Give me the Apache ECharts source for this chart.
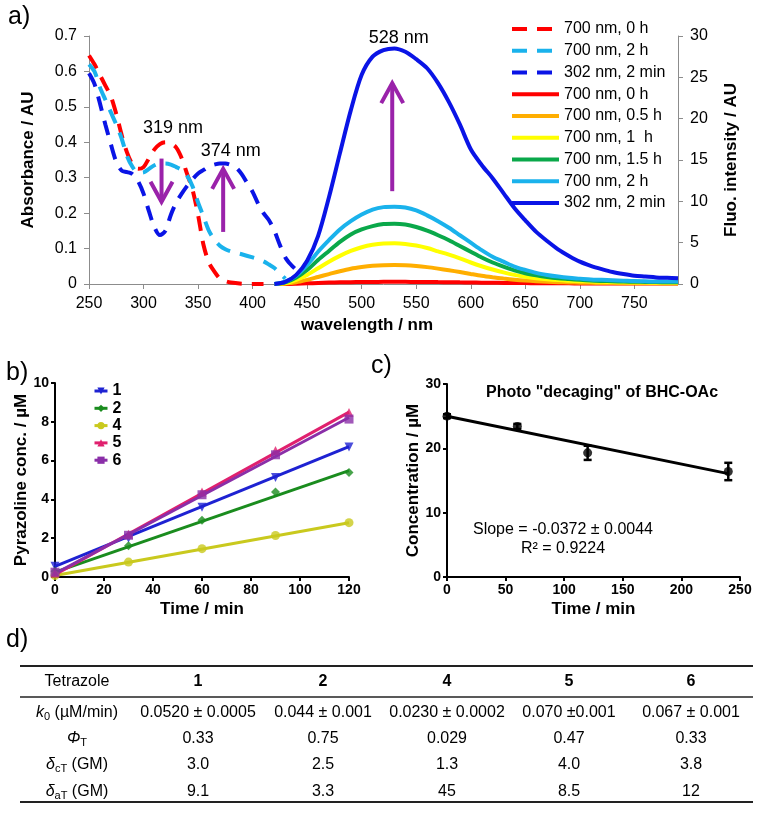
<!DOCTYPE html>
<html><head><meta charset="utf-8">
<script src="https://cdn.jsdelivr.net/npm/echarts@6/dist/echarts.min.js"></script>
<style>html,body{margin:0;padding:0;background:#fff}#c{width:762px;height:813px}</style>
</head><body><div id="c"></div>
<script>
// ---------- Panel a: absorbance (dashed, left axis) ----------
const absRed0h = [[250,0.645],[255,0.62],[260,0.59],[265,0.56],[270,0.53],[275,0.48],[280,0.42],[285,0.37],[290,0.337],[295,0.325],[300,0.33],[305,0.355],[310,0.38],[315,0.395],[320,0.40],[325,0.397],[330,0.385],[335,0.355],[340,0.31],[345,0.265],[350,0.195],[355,0.11],[360,0.06],[365,0.035],[370,0.015],[375,0.008],[380,0.004],[390,0.001],[400,0],[410,0]];
const absLb2h = [[250,0.62],[255,0.6],[260,0.555],[265,0.52],[270,0.485],[275,0.45],[280,0.41],[285,0.36],[290,0.33],[295,0.314],[300,0.315],[305,0.325],[310,0.335],[315,0.34],[320,0.34],[325,0.337],[330,0.33],[335,0.322],[340,0.305],[345,0.275],[350,0.23],[355,0.19],[360,0.15],[365,0.125],[370,0.108],[375,0.098],[380,0.092],[390,0.084],[400,0.075],[405,0.07],[410,0.064],[415,0.055],[420,0.045],[425,0.03],[430,0.015]];
const absBl302 = [[250,0.595],[255,0.565],[260,0.51],[265,0.45],[270,0.395],[275,0.345],[280,0.32],[285,0.316],[290,0.31],[295,0.29],[300,0.255],[305,0.205],[310,0.16],[315,0.138],[320,0.15],[325,0.195],[330,0.23],[335,0.255],[340,0.277],[345,0.296],[350,0.312],[355,0.322],[360,0.332],[365,0.337],[370,0.34],[375,0.34],[380,0.336],[385,0.328],[390,0.31],[395,0.285],[400,0.26],[405,0.227],[410,0.2],[415,0.18],[420,0.15],[425,0.11],[430,0.075],[435,0.055],[440,0.04]];
// ---------- Panel a: fluorescence (solid, right axis) ----------
const wlF = [420,430,440,450,460,470,480,490,500,510,520,530,540,550,560,570,580,590,600,610,620,630,640,650,660,670,680,690,700,710,720,730,740,750,760,770,780,790];
const flRed0h  = [0,0,0.03,0.08,0.13,0.17,0.2,0.22,0.24,0.25,0.26,0.26,0.26,0.25,0.24,0.23,0.22,0.2,0.18,0.16,0.15,0.13,0.12,0.11,0.1,0.09,0.08,0.08,0.07,0.07,0.06,0.06,0.06,0.05,0.05,0.05,0.05,0.05];
const flOr05h  = [0,0.05,0.2,0.5,0.85,1.2,1.55,1.85,2.05,2.2,2.28,2.3,2.27,2.18,2.04,1.86,1.66,1.45,1.22,1.0,0.82,0.66,0.52,0.41,0.33,0.27,0.22,0.19,0.16,0.14,0.12,0.11,0.1,0.09,0.08,0.08,0.07,0.07];
const flYe1h   = [0,0.1,0.5,1.1,1.9,2.7,3.4,4.0,4.45,4.75,4.9,4.92,4.85,4.65,4.35,3.95,3.55,3.1,2.6,2.15,1.75,1.4,1.1,0.87,0.7,0.57,0.47,0.4,0.34,0.3,0.26,0.23,0.2,0.18,0.17,0.16,0.15,0.14];
const flGr15h  = [0,0.2,0.8,1.7,2.9,4.0,5.1,6.0,6.6,7.0,7.25,7.3,7.2,6.9,6.45,5.9,5.3,4.6,3.9,3.2,2.6,2.1,1.65,1.3,1.05,0.85,0.7,0.6,0.5,0.42,0.37,0.33,0.3,0.27,0.25,0.23,0.22,0.2];
const flLb2h   = [0,0.3,1.0,2.3,3.9,5.3,6.6,7.6,8.4,9.0,9.3,9.35,9.25,8.9,8.3,7.6,6.8,5.9,5.0,4.1,3.3,2.7,2.1,1.7,1.35,1.1,0.9,0.75,0.65,0.55,0.5,0.45,0.4,0.35,0.33,0.3,0.3,0.3];
const flBl302  = [0,0.25,1.1,2.8,5.8,10.5,15.8,21,25.3,27.5,28.3,28.5,28.1,27.2,26.1,24.3,22,19.3,16.3,14.4,12.8,11,9.2,7.7,6.3,5.2,4.2,3.4,2.7,2.2,1.8,1.45,1.2,1.0,0.9,0.8,0.75,0.7];
const legendA = ['700 nm, 0 h','700 nm, 2 h','302 nm, 2 min','700 nm, 0 h','700 nm, 0.5 h','700 nm, 1  h','700 nm, 1.5 h','700 nm, 2 h','302 nm, 2 min'];
// arrows: [wavelength, from absorbance, to absorbance]
const arrowsA = [[316.5,0.354,0.232],[373,0.147,0.325],[528,0.262,0.567]];
const peakLabels = ['319 nm','374 nm','528 nm'];
const peakLabelPos = [[327,0.441],[380,0.375],[534,0.694]];

// ---------- Panel b ----------
const timesB = [0,30,60,90,120];
const namesB = ['1','2','4','5','6'];
const ptsB = {
  '1':[0.55,2.0,3.6,5.13,6.7],
  '2':[0.29,1.61,2.92,4.38,5.39],
  '4':[0.08,0.77,1.46,2.14,2.8],
  '5':[0.2,2.2,4.38,6.52,8.48],
  '6':[0.25,2.15,4.24,6.3,8.14]
};
const fitB = { // [value at t=0, value at t=120]
  '1':[0.55,6.72],'2':[0.25,5.48],'4':[0.08,2.8],'5':[0.12,8.5],'6':[0.18,8.22]
};

// ---------- Panel c ----------
const timesC = [0,60,120,240];
const concC = [25.0,23.4,19.3,16.4];
const errC = [0.3,0.4,1.1,1.35];
const fitC = [[0,25.0],[240,16.07]];

// ---------- Panel d (table) ----------
const tableHead = ['Tetrazole','1','2','4','5','6'];
const rowK0  = ['0.0520 ± 0.0005','0.044 ± 0.001','0.0230 ± 0.0002','0.070 ±0.001','0.067 ± 0.001'];
const rowPhi = ['0.33','0.75','0.029','0.47','0.33'];
const rowDc  = ['3.0','2.5','1.3','4.0','3.8'];
const rowDa  = ['9.1','3.3','45','8.5','12'];
const rowLabels = ['{i|k}{s|0} (µM/min)','{i|Φ}{s|T}','{i|δ}{s|cT} (GM)','{i|δ}{s|aT} (GM)'];

// ================= rendering =================
const FONT = '"Liberation Sans", Arial, sans-serif';
const chart = echarts.init(document.getElementById('c'), null, {renderer:'canvas'});
const ids = ['a0','a1','a2','a3','a4','a5','a6','a7','a8'];
const colA = ['#ff0000','#1ab2ec','#0a14e6','#ff0000','#ffae00','#ffff00','#0aa84a','#1ab2ec','#0a14e6'];
const colB = {'1':'#1e22d2','2':'#1a8c1e','4':'#c9c91e','5':'#e0206e','6':'#8a2ea8'};
const symB = {'1':['triangle',180],'2':['diamond',0],'4':['circle',0],'5':['triangle',0],'6':['rect',0]};
const PURPLE = '#9a22aa';

const series = [];
const absSets = [absRed0h, absLb2h, absBl302];
absSets.forEach((d,i)=>series.push({
  type:'line', name:ids[i], xAxisIndex:0, yAxisIndex:0, data:d, smooth:0.3, symbol:'none',
  lineStyle:{color:colA[i], width:4, type:[15,10], cap:'butt'}, itemStyle:{color:colA[i]}, z:2
}));
const flSets = [flRed0h, flOr05h, flYe1h, flGr15h, flLb2h, flBl302];
flSets.forEach((d,k)=>{const i=k+3; series.push({
  type:'line', name:ids[i], xAxisIndex:0, yAxisIndex:1, data:wlF.map((w,j)=>[w,d[j]]), smooth:0.3, symbol:'none',
  lineStyle:{color:colA[i], width:4}, itemStyle:{color:colA[i]}, z:3
});});
series.push({
  type:'custom', xAxisIndex:0, yAxisIndex:0, data:arrowsA, encode:{x:0,y:[1,2]}, z:10, silent:true,
  renderItem(params, api){
    const x=api.value(0), p0=api.coord([x,api.value(1)]), p1=api.coord([x,api.value(2)]);
    const dir = p1[1] < p0[1] ? -1 : 1, hl=20, hw=11;
    return {type:'group', children:[
      {type:'line', shape:{x1:p0[0],y1:p0[1],x2:p1[0],y2:p1[1]}, style:{stroke:PURPLE,lineWidth:4}},
      {type:'polyline', shape:{points:[[p1[0]-hw,p1[1]-dir*hl],[p1[0],p1[1]],[p1[0]+hw,p1[1]-dir*hl]]}, style:{stroke:PURPLE,lineWidth:4,fill:null,lineJoin:'miter'}}
    ]};
  }
});
series.push({
  type:'custom', xAxisIndex:0, yAxisIndex:0, data:peakLabelPos, encode:{x:0,y:1}, z:11, silent:true, clip:false,
  renderItem(params, api){
    const p=api.coord([api.value(0),api.value(1)]);
    return {type:'text', x:p[0], y:p[1], style:{text:peakLabels[params.dataIndex], fill:'#000', font:'18px '+FONT, align:'center', verticalAlign:'middle'}};
  }
});
// panel b
namesB.forEach(n=>{
  series.push({
    type:'line', name:n, xAxisIndex:1, yAxisIndex:2,
    data:[{value:[0,fitB[n][0]],symbol:'none'},{value:[120,fitB[n][1]],symbol:'none'}],
    symbol:symB[n][0], symbolRotate:symB[n][1], symbolSize:9, showSymbol:true,
    lineStyle:{color:colB[n], width:3}, itemStyle:{color:colB[n]}, z:3
  });
  series.push({
    type:'scatter', name:'pts'+n, xAxisIndex:1, yAxisIndex:2,
    data:timesB.map((t,j)=>[t,ptsB[n][j]]), symbol:symB[n][0], symbolRotate:symB[n][1], symbolSize:9,
    itemStyle:{color:colB[n]}, z:4
  });
});
// panel c
series.push({type:'line', name:'fitC', xAxisIndex:2, yAxisIndex:3, data:fitC, symbol:'none', lineStyle:{color:'#000',width:3}, z:3});
series.push({type:'scatter', name:'ptsC', xAxisIndex:2, yAxisIndex:3, data:timesC.map((t,j)=>[t,concC[j]]), symbol:'circle', symbolSize:9, itemStyle:{color:'#000'}, z:4});
series.push({
  type:'custom', name:'errC', xAxisIndex:2, yAxisIndex:3, data:timesC.map((t,j)=>[t,concC[j],errC[j]]), encode:{x:0,y:1}, z:5, clip:false,
  renderItem(params, api){
    const x=api.value(0), y=api.value(1), e=api.value(2);
    const t=api.coord([x,y+e]), b=api.coord([x,y-e]), w=4;
    const st={stroke:'#000',lineWidth:2.5};
    return {type:'group', children:[
      {type:'line', shape:{x1:t[0],y1:t[1],x2:b[0],y2:b[1]}, style:st},
      {type:'line', shape:{x1:t[0]-w,y1:t[1],x2:t[0]+w,y2:t[1]}, style:st},
      {type:'line', shape:{x1:b[0]-w,y1:b[1],x2:b[0]+w,y2:b[1]}, style:st}
    ]};
  }
});

function grayAxis(extra){
  return Object.assign({
    axisLine:{show:true, lineStyle:{color:'#8c8c8c', width:1}},
    axisTick:{show:true, inside:false, length:5, lineStyle:{color:'#8c8c8c'}},
    axisLabel:{color:'#000', fontSize:16, fontFamily:FONT, margin:12, showMaxLabel:false},
    splitLine:{show:false},
    nameTextStyle:{color:'#000', fontSize:17, fontWeight:'bold', fontFamily:FONT}
  }, extra);
}
function blackAxis(extra){
  return Object.assign({
    axisLine:{show:true, onZero:false, lineStyle:{color:'#000', width:2}},
    axisTick:{show:true, inside:false, length:4, lineStyle:{color:'#000', width:2}},
    axisLabel:{color:'#000', fontSize:14, fontWeight:'bold', fontFamily:FONT, margin:6},
    splitLine:{show:false},
    nameTextStyle:{color:'#000', fontSize:17, fontWeight:'bold', fontFamily:FONT}
  }, extra);
}

// table graphics
const colX = [77,198,323,447,569,691];
const rowY = [682,713,739,765,792];
const g = [];
[['a)',8,17],['b)',6,373],['c)',371,366],['d)',6,640]].forEach(([t,x,y])=>g.push({type:'text', x, y, style:{text:t, font:'25px '+FONT, fill:'#000', verticalAlign:'middle'}}));
[[666,2],[697,1.5],[802,2]].forEach(([y,w])=>g.push({type:'line', shape:{x1:20,y1:y,x2:753,y2:y}, style:{stroke:'#222', lineWidth:w}}));
tableHead.forEach((t,i)=>g.push({type:'text', x:colX[i], y:rowY[0], style:{text:t, font:(i?'bold ':'')+'16px '+FONT, fill:'#000', align:'center', verticalAlign:'middle'}}));
const rich = {i:{fontStyle:'italic', fontSize:16, fontFamily:FONT, fill:'#000'}, s:{fontSize:11, fontFamily:FONT, fill:'#000', verticalAlign:'bottom', padding:[7,0,0,0]}};
[rowK0,rowPhi,rowDc,rowDa].forEach((row,r)=>{
  g.push({type:'text', x:colX[0], y:rowY[r+1], style:{text:rowLabels[r], font:'16px '+FONT, fill:'#000', align:'center', verticalAlign:'middle', rich}});
  row.forEach((t,i)=>g.push({type:'text', x:colX[i+1], y:rowY[r+1], style:{text:t, font:'16px '+FONT, fill:'#000', align:'center', verticalAlign:'middle'}}));
});
g.push({type:'text', x:602, y:393, style:{text:'Photo "decaging" of BHC-OAc', font:'bold 16px '+FONT, fill:'#000', align:'center', verticalAlign:'middle'}});
g.push({type:'text', x:563, y:530, style:{text:'Slope = -0.0372 ± 0.0044', font:'16px '+FONT, fill:'#000', align:'center', verticalAlign:'middle'}});
g.push({type:'text', x:563, y:549, style:{text:'R² = 0.9224', font:'16px '+FONT, fill:'#000', align:'center', verticalAlign:'middle'}});

chart.setOption({
  animation:false,
  backgroundColor:'#fff',
  textStyle:{fontFamily:FONT},
  grid:[
    {left:89, top:36, width:589, height:248, outerBoundsMode:'none', containLabel:false},
    {left:55, top:383, width:294, height:194, outerBoundsMode:'none', containLabel:false},
    {left:447, top:384, width:293, height:193, outerBoundsMode:'none', containLabel:false}
  ],
  xAxis:[
    grayAxis({gridIndex:0, type:'value', min:250, max:790, interval:50, name:'wavelength / nm', nameLocation:'middle', nameGap:33, nameTextStyle:{color:'#000', fontSize:17, fontWeight:'bold', fontFamily:FONT, padding:[0,33,0,0]}}),
    blackAxis({gridIndex:1, type:'value', min:0, max:120, interval:20, name:'Time / min', nameLocation:'middle', nameGap:24}),
    blackAxis({gridIndex:2, type:'value', min:0, max:250, interval:50, name:'Time / min', nameLocation:'middle', nameGap:24})
  ],
  yAxis:[
    grayAxis({gridIndex:0, type:'value', min:0, max:0.7, interval:0.1, name:'Absorbance / AU', nameLocation:'middle', nameGap:52, nameRotate:90, axisLabel:{color:'#000', fontSize:16, fontFamily:FONT, margin:12}}),
    grayAxis({gridIndex:0, type:'value', position:'right', min:0, max:30, interval:5, name:'Fluo. intensity / AU', nameLocation:'middle', nameGap:45, nameRotate:90, axisLabel:{color:'#000', fontSize:16, fontFamily:FONT, margin:12}}),
    blackAxis({gridIndex:1, type:'value', min:0, max:10, interval:2, name:'Pyrazoline conc. / µM', nameLocation:'middle', nameGap:20, nameRotate:90}),
    blackAxis({gridIndex:2, type:'value', min:0, max:30, interval:10, name:'Concentration / µM', nameLocation:'middle', nameGap:20, nameRotate:90})
  ],
  legend:[
    {data:ids, orient:'vertical', left:510, top:21, padding:0, itemWidth:47, itemHeight:14, itemGap:5.75, selectedMode:false,
     itemStyle:{opacity:0}, lineStyle:{width:4},
     formatter:n=>legendA[ids.indexOf(n)], textStyle:{color:'#000', fontSize:16, fontFamily:FONT}},
    {data:namesB, orient:'vertical', left:93, top:383, padding:0, itemWidth:13, itemHeight:9, itemGap:1.3, selectedMode:false,
     lineStyle:{width:3},
     textStyle:{color:'#000', fontSize:16, fontWeight:'bold', fontFamily:FONT}}
  ],
  series,
  graphic:g
});
</script></body></html>
